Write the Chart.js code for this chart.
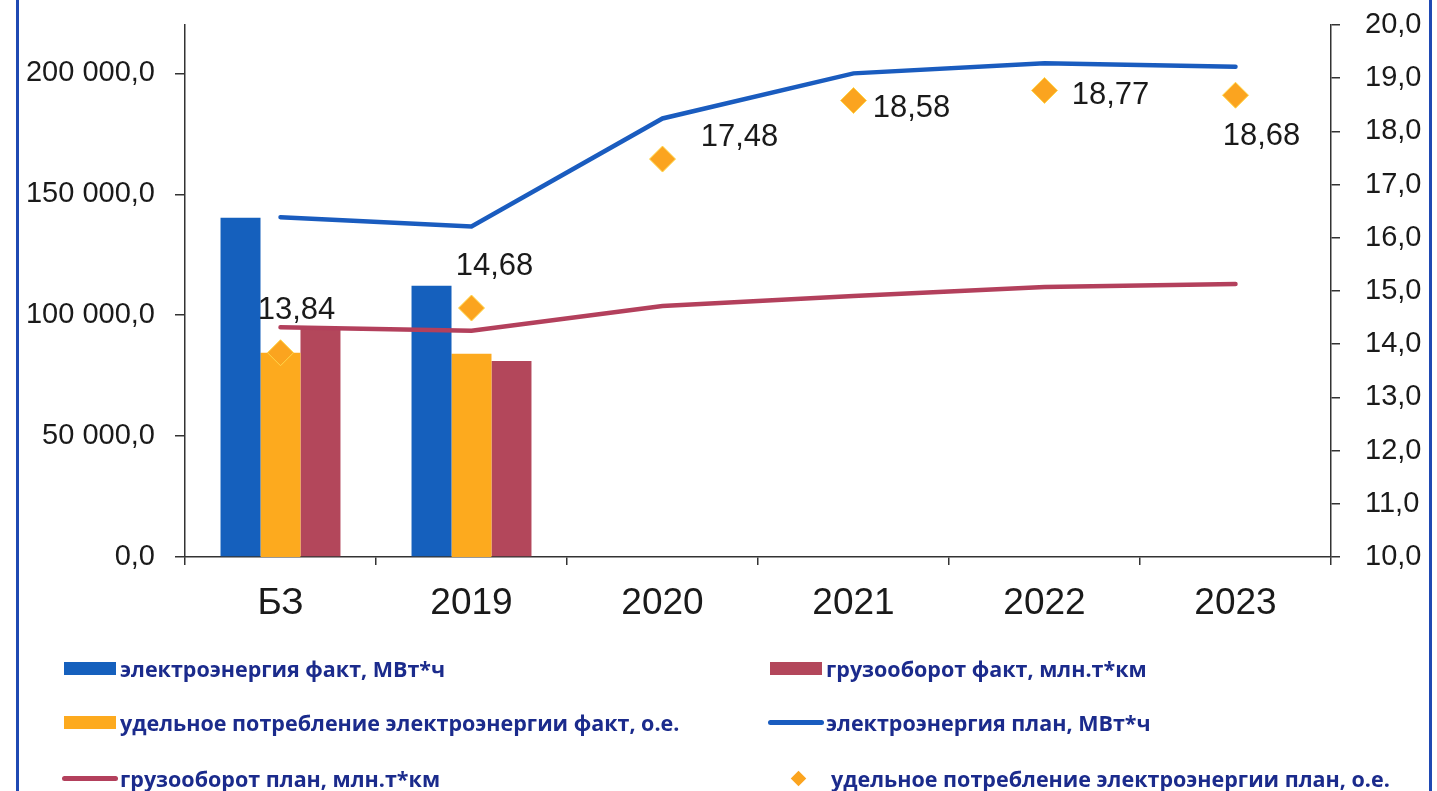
<!DOCTYPE html>
<html>
<head>
<meta charset="utf-8">
<script src="https://cdn.jsdelivr.net/npm/chart.js@4.4.1/dist/chart.umd.min.js"></script>
<style>
  html, body { margin: 0; padding: 0; background: #fff; }
  body { width: 1437px; height: 791px; position: relative; overflow: hidden; }
  #wrap { position: absolute; left: 0; top: 0; width: 1437px; height: 791px; }
  .frame { position: absolute; top: 0; height: 791px; width: 3px; background: #1f49b3; }
  #legend { position: absolute; left: 0; top: 0; width: 1437px; height: 791px; pointer-events: none;
    font-family: "Open Sans", "Noto Sans", sans-serif; font-weight: 700; font-size: 21.5px; color: #1b2b8c; }
  .li { position: absolute; display: flex; align-items: center; white-space: nowrap; height: 30px; }
  .sw { display: inline-block; }
</style>
</head>
<body>
<div id="wrap"><canvas id="c" width="1437" height="791"></canvas></div>
<div class="frame" style="left:16px"></div>
<div class="frame" style="left:1429px"></div>
<div id="legend"></div>
<script>
// ---- data ----
const categories = ['БЗ', '2019', '2020', '2021', '2022', '2023'];
const elFact   = [140300, 112200, null, null, null, null];      // электроэнергия факт, МВт*ч
const udFact   = [13.84, 13.82, null, null, null, null];        // удельное потребление факт, о.е.
const gruzFact = [94500, 81100, null, null, null, null];        // грузооборот факт, млн.т*км
const elPlan   = [140540, 136680, 181340, 200000, 204150, 202780]; // электроэнергия план
const gruzPlan = [94960, 93550, 103800, 107950, 111680, 112920];   // грузооборот план
const udPlan   = [13.84, 14.68, 17.48, 18.58, 18.77, 18.68];       // удельное потребление план
const leftTicks  = [0, 50000, 100000, 150000, 200000];
const rightTicks = [10, 11, 12, 13, 14, 15, 16, 17, 18, 19, 20];

const names = {
  elFact: 'электроэнергия факт, МВт*ч',
  gruzFact: 'грузооборот факт, млн.т*км',
  udFact: 'удельное потребление электроэнергии факт, о.е.',
  elPlan: 'электроэнергия план, МВт*ч',
  gruzPlan: 'грузооборот план, млн.т*км',
  udPlan: 'удельное потребление электроэнергии план, о.е.'
};

const C = {
  blue: '#1560bd', orange: '#fdaa1e', red: '#b3475b',
  blueLine: '#1a5cbf', redLine: '#b3405c', diamond: '#fba41f', diamondBorder: '#ffd64a'
};

function fmtLeft(v) {
  return String(Math.round(v)).replace(/\B(?=(\d{3})+(?!\d))/g, ' ') + ',0';
}
function fmtRight(v) { return Number(v).toFixed(1).replace('.', ','); }
function fmtLabel(v) { return Number(v).toFixed(2).replace('.', ','); }

const AXIS_FONT = '"Liberation Sans", Arial, sans-serif';

const labelPlugin = {
  id: 'pointLabels',
  afterDatasetsDraw(chart, args, opts) {
    const ctx = chart.ctx;
    const idx = chart.data.datasets.findIndex(d => d.key === 'udPlan');
    const meta = chart.getDatasetMeta(idx);
    ctx.save();
    ctx.font = opts.size + 'px ' + AXIS_FONT;
    ctx.fillStyle = '#1a1a1a';
    ctx.textAlign = 'center';
    ctx.textBaseline = 'middle';
    meta.data.forEach((pt, i) => {
      const v = chart.data.datasets[idx].data[i];
      if (v == null) return;
      const o = opts.offsets[i] || [0, -30];
      ctx.fillText(fmtLabel(v), pt.x + o[0], pt.y + o[1]);
    });
    ctx.restore();
  }
};

Chart.defaults.font.family = AXIS_FONT;
Chart.defaults.color = '#1a1a1a';

new Chart(document.getElementById('c'), {
  type: 'bar',
  data: {
    labels: categories,
    datasets: [
      { key: 'udPlan', type: 'line', label: names.udPlan, data: udPlan, yAxisID: 'y1',
        showLine: false, pointStyle: 'rectRot', pointRadius: 13, pointBackgroundColor: C.diamond,
        pointBorderColor: C.diamondBorder, pointBorderWidth: 1, order: 0 },
      { key: 'elPlan', type: 'line', label: names.elPlan, data: elPlan, yAxisID: 'y',
        borderColor: C.blueLine, borderWidth: 4.5, pointRadius: 0, tension: 0, borderCapStyle: 'round', order: 1 },
      { key: 'gruzPlan', type: 'line', label: names.gruzPlan, data: gruzPlan, yAxisID: 'y',
        borderColor: C.redLine, borderWidth: 4.5, pointRadius: 0, tension: 0, borderCapStyle: 'round', order: 1 },
      { key: 'elFact', label: names.elFact, data: elFact, yAxisID: 'y', backgroundColor: C.blue,
        categoryPercentage: 0.628, barPercentage: 1.0, order: 2 },
      { key: 'udFact', label: names.udFact, data: udFact, yAxisID: 'y1', backgroundColor: C.orange,
        categoryPercentage: 0.628, barPercentage: 1.0, order: 2 },
      { key: 'gruzFact', label: names.gruzFact, data: gruzFact, yAxisID: 'y', backgroundColor: C.red,
        categoryPercentage: 0.628, barPercentage: 1.0, order: 2 }
    ]
  },
  options: {
    responsive: false,
    devicePixelRatio: 1,
    animation: false,
    events: [],
    layout: { padding: { left: 0, right: 0, top: 25, bottom: 164 } },
    plugins: {
      legend: { display: false },
      tooltip: { enabled: false },
      pointLabels: { size: 31, offsets: [[16, -42], [23, -42], [77, -22], [58, 8], [66, 5], [26, 41]] }
    },
    scales: {
      x: {
        type: 'category',
        grid: { display: true, drawOnChartArea: false, drawTicks: true, tickLength: 8, color: '#333', offset: true, lineWidth: 1.5 },
        border: { display: true, color: '#333', width: 1.5 },
        ticks: { font: { size: 37, family: AXIS_FONT }, color: '#1a1a1a', padding: 17, maxRotation: 0 },
        afterFit(s) { s.height = 70; }
      },
      y: {
        position: 'left', min: 0, max: 220000,
        grid: { display: true, drawOnChartArea: false, tickLength: 10, color: '#333', lineWidth: 1.5 },
        border: { display: true, color: '#333', width: 1.5 },
        ticks: { stepSize: 50000, font: { size: 29, family: AXIS_FONT }, color: '#1a1a1a', padding: 20,
          callback: v => fmtLeft(v) },
        afterBuildTicks(s) { s.ticks = leftTicks.map(v => ({ value: v })); },
        afterFit(s) { s.width = 185; s.paddingTop = 0; s.paddingBottom = 0; }
      },
      y1: {
        position: 'right', min: 10, max: 20,
        grid: { display: true, drawOnChartArea: false, tickLength: 9, color: '#333', lineWidth: 1.5 },
        border: { display: true, color: '#333', width: 1.5 },
        ticks: { stepSize: 1, font: { size: 29, family: AXIS_FONT }, color: '#1a1a1a', padding: 25,
          callback: v => fmtRight(v) },
        afterBuildTicks(s) { s.ticks = rightTicks.map(v => ({ value: v })); },
        afterFit(s) { s.width = 106; s.paddingTop = 0; s.paddingBottom = 0; }
      }
    }
  },
  plugins: [labelPlugin]
});

// ---- HTML legend ----
const legendItems = [
  { key: 'elFact', kind: 'bar', color: C.blue, x: 64, y: 668 },
  { key: 'gruzFact', kind: 'bar', color: C.red, x: 770, y: 668 },
  { key: 'udFact', kind: 'bar', color: C.orange, x: 64, y: 722 },
  { key: 'elPlan', kind: 'line', color: C.blueLine, x: 768, y: 722 },
  { key: 'gruzPlan', kind: 'line', color: C.redLine, x: 62, y: 778 },
  { key: 'udPlan', kind: 'diamond', color: C.diamond, x: 789, y: 778 }
];
const lg = document.getElementById('legend');
legendItems.forEach(it => {
  const d = document.createElement('div');
  d.className = 'li';
  d.style.left = it.x + 'px';
  d.style.top = (it.y - 15) + 'px';
  const sw = document.createElement('span');
  sw.className = 'sw';
  if (it.kind === 'bar') {
    sw.style.cssText = 'width:52px;height:13px;margin-right:4px;background:' + it.color;
  } else if (it.kind === 'line') {
    sw.style.cssText = 'width:56px;height:5px;border-radius:3px;margin-right:2px;background:' + it.color;
  } else {
    sw.style.cssText = 'width:11px;height:11px;transform:rotate(45deg);margin:0 27px 0 4px;background:' + it.color;
  }
  d.appendChild(sw);
  const t = document.createElement('span');
  t.textContent = names[it.key];
  d.appendChild(t);
  lg.appendChild(d);
});
</script>
</body>
</html>
